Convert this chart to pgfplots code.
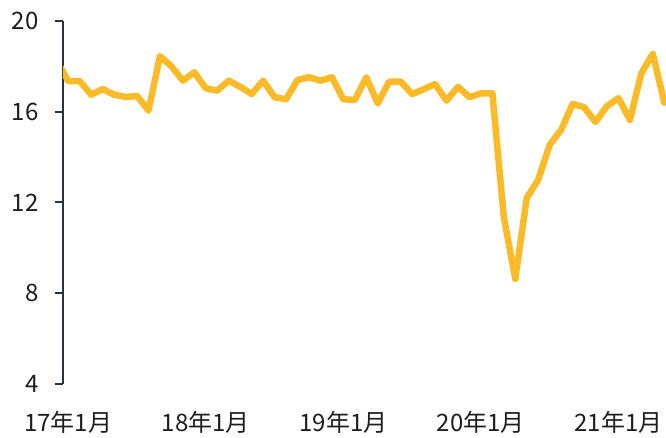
\documentclass[border=0pt]{standalone}
\usepackage{pgfplots}
\pgfplotsset{compat=1.18}
\usepackage{fontspec}
\setmainfont{Noto Sans CJK SC}
\definecolor{lineyellow}{RGB}{251,187,40}
\definecolor{axisdark}{RGB}{45,50,62}
\definecolor{textdark}{RGB}{30,30,30}
\begin{document}
\begin{tikzpicture}
\begin{axis}[
  scale only axis,
  width=603pt, height=363pt,
  xmin=-0.46, xmax=52.15,
  ymin=4, ymax=20,
  ytick={4,8,12,16,20},
  xtick={0,12,24,36,48},
  xticklabels={17年1月,18年1月,19年1月,20年1月,21年1月},
  axis x line=bottom, axis y line=left,
  axis line style={-},
  x axis line style={draw=none},
  y axis line style={draw=axisdark, line width=2pt},
  xtick style={draw=none},
  ytick style={draw=axisdark, line width=2pt},
  tick align=outside,
  major tick length=8pt,
  /pgf/number format/assume math mode=true,
  tick label style={font=\fontsize{24}{28}\selectfont, text=textdark},
  yticklabel style={xshift=-13pt},
  xticklabel style={yshift=-16pt},
  clip=true,
]
\addplot[color=lineyellow, line width=6.5pt, line join=round, line cap=round] coordinates {
(-1,18.26) (0,17.35) (1,17.35) (2,16.75) (3,17.0) (4,16.75) (5,16.65) (6,16.7)
(7,16.05) (8,18.45) (9,18.0) (10,17.37) (11,17.74) (12,17.03) (13,16.93) (14,17.37)
(15,17.1) (16,16.78) (17,17.37) (18,16.64) (19,16.55) (20,17.4) (21,17.52) (22,17.37)
(23,17.52) (24,16.55) (25,16.52) (26,17.52) (27,16.37) (28,17.33) (29,17.33) (30,16.78)
(31,16.99) (32,17.22) (33,16.49) (34,17.1) (35,16.64) (36,16.81) (37,16.81) (38,11.36)
(39,8.63) (40,12.2) (41,13.0) (42,14.54) (43,15.2) (44,16.34) (45,16.2) (46,15.55)
(47,16.25) (48,16.6) (49,15.64) (50,17.7) (51,18.55) (52,16.4)
};
\end{axis}
\path[use as bounding box] ([xshift=-63pt,yshift=-51pt]current axis.south west) rectangle ([yshift=21pt]current axis.north east);
\end{tikzpicture}
\end{document}
